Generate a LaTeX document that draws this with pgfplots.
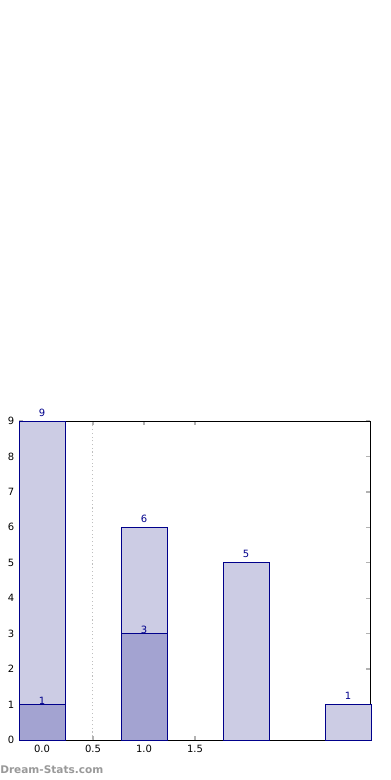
\documentclass[border=0pt]{standalone}
\usepackage{fontspec}
\setmainfont{DejaVu Sans}
\usepackage{pgfplots}
\pgfplotsset{compat=1.18}
\definecolor{lightbar}{RGB}{204,204,228}
\definecolor{darkbar}{RGB}{163,163,209}
\definecolor{edge}{RGB}{0,0,139}
\definecolor{lbl}{RGB}{0,0,139}
\begin{document}
\begin{tikzpicture}
\useasboundingbox (0,0) rectangle (292.5pt,585pt);
\begin{axis}[
  at={(14.25pt,30pt)}, anchor=south west,
  scale only axis, width=263.25pt, height=239.25pt,
  xmin=-0.225, xmax=3.216, ymin=0, ymax=9,
  xtick={0,0.5,1,1.5}, xticklabels={0.0,0.5,1.0,1.5},
  ytick={0,1,...,9},
  tick align=inside, major tick length=3pt,
  every tick/.style={gray!60, line width=1pt},
  tick label style={font=\fontsize{7.5}{8}\selectfont, black},
  /pgf/number format/assume math mode=true,
  axis line style={black, line width=0.75pt},
  clip=false,
]
\addplot[gray!50, dotted, line width=0.8pt, forget plot] coordinates {(0.5,0) (0.5,9)};
\addplot[ybar, bar width=0.45, bar shift=0pt, fill=lightbar, draw=edge, line width=0.6pt,
  nodes near coords, every node near coord/.append style={font=\fontsize{7.5}{8}\selectfont, text=lbl, anchor=south, inner sep=3.2pt}]
  coordinates {(0,9) (1,6) (2,5) (3,1)};
\addplot[ybar, bar width=0.45, bar shift=0pt, fill=darkbar, draw=edge, line width=0.6pt,
  nodes near coords, every node near coord/.append style={font=\fontsize{7.5}{8}\selectfont, text=lbl, anchor=south, inner sep=0pt}]
  coordinates {(0,1) (1,3)};
\end{axis}
\node[anchor=west, inner sep=0pt, text=gray!80, font=\bfseries\fontsize{7.9}{9}\selectfont] at (0pt,7.5pt) {Dream-Stats.com};
\end{tikzpicture}
\end{document}
